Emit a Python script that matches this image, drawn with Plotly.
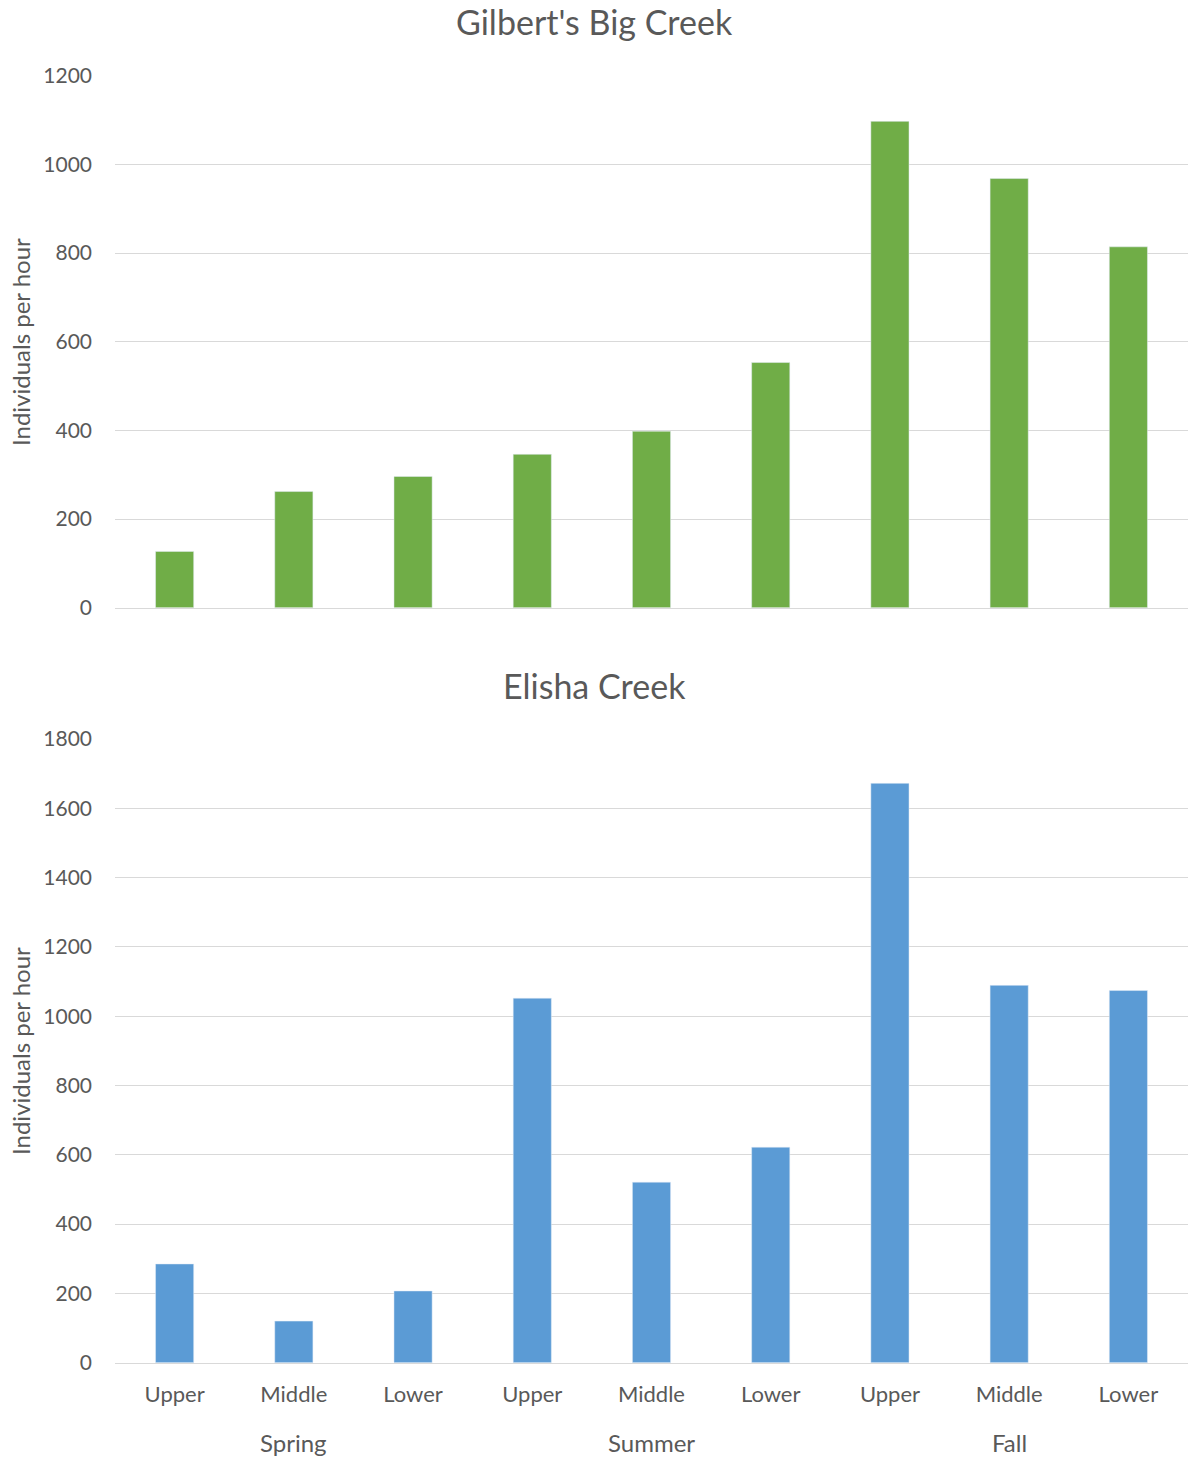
import plotly.graph_objects as go

# Survey sites, grouped by season
seasons = ["Spring", "Summer", "Fall"]
positions = ["Upper", "Middle", "Lower"]
site_keys = [f"{s} {p}" for s in seasons for p in positions]
site_labels = positions * len(seasons)

# Individuals per hour at each site
gilberts_big_creek = [127, 262, 296, 346, 398, 553, 1097, 968, 814]
elisha_creek = [285, 120, 207, 1052, 521, 622, 1672, 1089, 1074]

W, H = 1188, 1460
TEXT = "#595959"
GRID = "#d9d9d9"
FONT = "Lato, 'Open Sans', sans-serif"


def py(px):
    """Convert a pixel row (from the top) to paper coordinates."""
    return 1 - px / H


fig = go.Figure()
fig.add_trace(go.Bar(x=site_keys, y=gilberts_big_creek, marker_color="#70AD47",
                     xaxis="x", yaxis="y", showlegend=False))
fig.add_trace(go.Bar(x=site_keys, y=elisha_creek, marker_color="#5B9BD5",
                     xaxis="x2", yaxis="y2", showlegend=False))

x_domain = [115 / W, 1.0]
common_x = dict(type="category", categoryorder="array", categoryarray=site_keys,
                domain=x_domain, showgrid=False, zeroline=False,
                showline=True, linecolor=GRID, linewidth=1, ticks="",
                automargin=False)
common_y = dict(showgrid=True, gridcolor=GRID, gridwidth=1, zeroline=False,
                showline=False, ticks="", dtick=200, ticklabelstandoff=22,
                tickfont=dict(size=21, color=TEXT, family=FONT), automargin=False)

fig.update_layout(
    width=W, height=H,
    margin=dict(l=0, r=0, t=0, b=0),
    paper_bgcolor="white", plot_bgcolor="white",
    bargap=0.68,
    font=dict(family=FONT, color=TEXT),
    xaxis=dict(common_x, anchor="y", showticklabels=False),
    yaxis=dict(common_y, anchor="x", range=[0, 1200],
               domain=[py(607.7), py(75.7)]),
    xaxis2=dict(common_x, anchor="y2", showticklabels=True,
                tickmode="array", tickvals=site_keys, ticktext=site_labels,
                tickfont=dict(size=22, color=TEXT, family=FONT),
                ticklabelstandoff=12),
    yaxis2=dict(common_y, anchor="x2", range=[0, 1800],
                domain=[py(1362.7), py(739)]),
)

# Chart titles
for text, y in [("Gilbert's Big Creek", 22), ("Elisha Creek", 685)]:
    fig.add_annotation(text=text, xref="paper", yref="paper", x=594 / W, y=py(y),
                       showarrow=False, xanchor="center", yanchor="middle",
                       font=dict(size=34, color=TEXT, family=FONT))

# Vertical axis titles
for y in [342, 1051]:
    fig.add_annotation(text="Individuals per hour", xref="paper", yref="paper",
                       x=20 / W, y=py(y), textangle=-90, showarrow=False,
                       xanchor="center", yanchor="middle",
                       font=dict(size=24, color=TEXT, family=FONT))

# Season group labels under the lower chart
for i, season in enumerate(seasons):
    fig.add_annotation(text=season, xref="x2", yref="paper",
                       x=site_keys[i * 3 + 1], y=py(1442), showarrow=False,
                       xanchor="center", yanchor="middle",
                       font=dict(size=24, color=TEXT, family=FONT))

fig.write_html("out.html")
